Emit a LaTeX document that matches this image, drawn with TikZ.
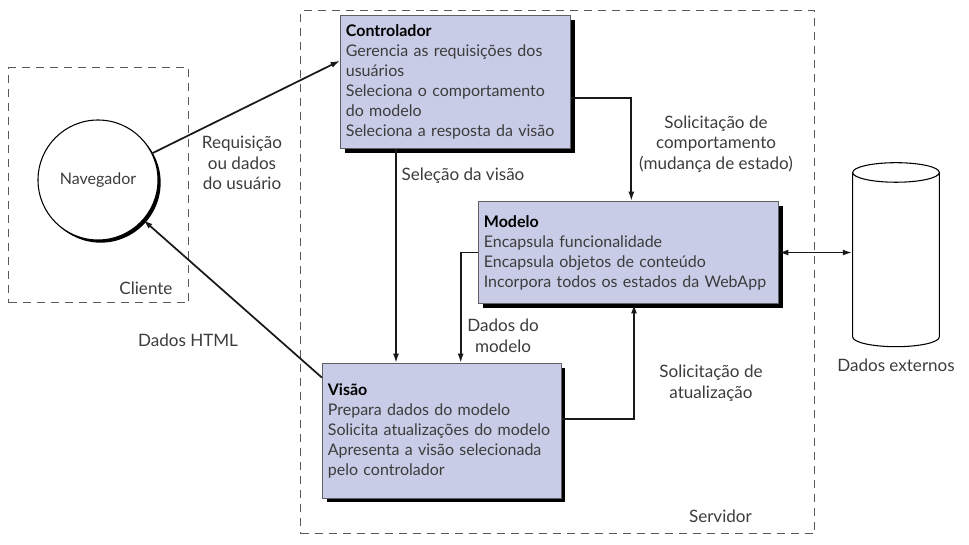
\documentclass[tikz,border=0pt]{standalone}
\usepackage{fontspec}
\setmainfont{Lato}
\usepackage{xcolor}
\usepackage{tikz}
\usetikzlibrary{shapes.geometric, arrows.meta, positioning, shadows}
\definecolor{boxfill}{RGB}{200, 204, 230}
\definecolor{boxedge}{RGB}{95, 95, 100}
\definecolor{ink}{RGB}{60, 60, 60}
\tikzset{
    module/.style={rectangle, draw=boxedge, fill=boxfill, thick, anchor=north west, align=left, inner xsep=4pt, inner ysep=4pt, text=ink, font=\fontsize{12}{15}\selectfont, drop shadow={shadow xshift=3pt, shadow yshift=-3pt, fill=black, opacity=1}},
    browser/.style={circle, draw=black, fill=white, thick, minimum size=90pt, text=ink, font=\fontsize{12}{15}\selectfont, drop shadow={shadow xshift=2pt, shadow yshift=-2pt, fill=black, opacity=1}},
    datastore/.style={cylinder, shape border rotate=90, draw=black, thick, aspect=2.2, minimum width=65pt, minimum height=138pt},
    zone/.style={rectangle, draw=black!65, dashed, dash pattern=on 6pt off 4.5pt, line width=0.9pt, anchor=north west},
    tag/.style={align=center, text=ink, font=\fontsize{12.8}{15.5}\selectfont},
    line/.style={draw, -{Latex[length=7pt, width=4.5pt]}, line width=1.3pt, color=black!90}
}
\begin{document}
\begin{tikzpicture}[x=0.75pt, y=-0.75pt]
        \useasboundingbox (0,0) rectangle (969,545);

        % Zones
        \node [zone, minimum width=135pt, minimum height=176.25pt] (cliente) at (8,67) {};
        \node [tag, anchor=south east] (clientetag) at ([shift={(-9pt,3pt)}]cliente.south east) {Cliente};
        \node [zone, minimum width=385.5pt, minimum height=392.25pt] (servidor) at (300,10) {};
        \node [tag, anchor=south east] (servidortag) at ([shift={(-44pt,5pt)}]servidor.south east) {Servidor};

        % Client side
        \node [browser] (nav) at (98,180) {Navegador};

        % MVC boxes
        \node [module, text width=164.5pt, minimum height=99.75pt] (ctrl) at (340,15) {\textbf{\color{black}Controlador}\\Gerencia as requisições dos\\usuários\\Seleciona o comportamento\\do modelo\\Seleciona a resposta da visão};
        \node [module, text width=217pt, minimum height=76.5pt] (mod) at (478,201) {\textbf{\color{black}Modelo}\\Encapsula funcionalidade\\Encapsula objetos de conteúdo\\Incorpora todos os estados da WebApp};
        \node [module, text width=171pt, minimum height=101pt] (vis) at (322,363) {\textbf{\color{black}Visão}\\Prepara dados do modelo\\Solicita atualizações do modelo\\Apresenta a visão selecionada\\pelo controlador};

        % Database
        \node [datastore] (db) at (896,262) {};
        \node [tag, below=5pt of db] (dbtag) {Dados externos};

        % Connections
        \draw [line] (nav) -- ([yshift=16pt]ctrl.west);
        \draw [line] ([yshift=-11pt]vis.north west) -- (nav);
        \draw [line] ([xshift=42pt]ctrl.south west) coordinate (sel) -- (sel |- vis.north);
        \draw [line] ([yshift=-12pt]ctrl.east) -| ([xshift=115pt]mod.north west);
        \draw [line] (mod.west) -| ([xshift=104pt]vis.north west);
        \draw [line] ([yshift=9pt]vis.east) -| ([xshift=117pt]mod.south west);
        \draw [line, {Latex[length=7pt, width=4.5pt]}-{Latex[length=7pt, width=4.5pt]}] (mod.east) -- (mod.east -| db.west);

        % Labels
        \node [tag] (reqtag) at (242,163) {Requisição\\ou dados\\do usuário};
        \node [tag] (htmltag) at (188,340) {Dados HTML};
        \node [tag] (seltag) at (463,176) {Seleção da visão};
        \node [tag] (comptag) at (716,144) {Solicitação de\\comportamento\\(mudança de estado)};
        \node [tag] (dadostag) at (503,336) {Dados do\\modelo};
        \node [tag] (atualtag) at (711,383) {Solicitação de\\atualização};

    \end{tikzpicture}
\end{document}
